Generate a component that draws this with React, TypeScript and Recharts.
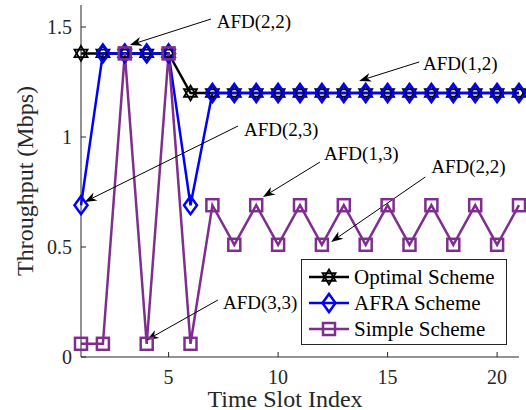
import React from 'react';
import {
	LineChart,
	Line,
	XAxis,
	YAxis,
	ReferenceLine,
	ReferenceDot,
	Legend,
} from 'recharts';

// time slots 1..21
const slots = [1, 2, 3, 4, 5, 6, 7, 8, 9, 10, 11, 12, 13, 14, 15, 16, 17, 18, 19, 20, 21];
const optimal = [1.38, 1.38, 1.38, 1.38, 1.38, 1.2, 1.2, 1.2, 1.2, 1.2, 1.2, 1.2, 1.2, 1.2, 1.2, 1.2, 1.2, 1.2, 1.2, 1.2, 1.2];
const afra = [0.69, 1.38, 1.38, 1.38, 1.38, 0.69, 1.2, 1.2, 1.2, 1.2, 1.2, 1.2, 1.2, 1.2, 1.2, 1.2, 1.2, 1.2, 1.2, 1.2, 1.2];
const simple = [0.06, 0.06, 1.38, 0.06, 1.38, 0.06, 0.69, 0.51, 0.69, 0.51, 0.69, 0.51, 0.69, 0.51, 0.69, 0.51, 0.69, 0.51, 0.69, 0.51, 0.69];

const xTicks = [5, 10, 15, 20];
const yTicks = [0, 0.5, 1, 1.5];

// annotations: label anchor + arrow tail/tip, in data units
const notes = [
	{text: 'AFD(2,2)', tx: 7.2, ty: 1.527, from: [6.93, 1.536], to: [3.23, 1.418]},
	{text: 'AFD(1,2)', tx: 16.62, ty: 1.336, from: [16.44, 1.341], to: [13.7, 1.255]},
	{text: 'AFD(2,3)', tx: 8.44, ty: 1.036, from: [8.17, 1.05], to: [1.17, 0.705]},
	{text: 'AFD(1,3)', tx: 12.1, ty: 0.927, from: [11.91, 0.886], to: [9.31, 0.727]},
	{text: 'AFD(2,2)', tx: 16.99, ty: 0.868, from: [16.72, 0.818], to: [12.42, 0.523]},
	{text: 'AFD(3,3)', tx: 7.48, ty: 0.25, from: [7.25, 0.259], to: [4.0, 0.077]},
];

const data = slots.map((s, i) => ({slot: s, optimal: optimal[i], afra: afra[i], simple: simple[i]}));

const SERIF = '"Liberation Serif", "Times New Roman", serif';
const AXIS = '#262626';
const BLACK = '#000000';
const BLUE = '#0000FF';
const PURPLE = '#7E2F8E';

function hexagram(cx: number, cy: number, r: number) {
	const up = [[cx, cy - r], [cx + r * 0.866, cy + r / 2], [cx - r * 0.866, cy + r / 2]];
	const dn = [[cx, cy + r], [cx + r * 0.866, cy - r / 2], [cx - r * 0.866, cy - r / 2]];
	return (
		<g>
			<polygon points={up.map((p) => p.join(',')).join(' ')} fill="none" stroke={BLACK} strokeWidth={1.8} />
			<polygon points={dn.map((p) => p.join(',')).join(' ')} fill="none" stroke={BLACK} strokeWidth={1.8} />
		</g>
	);
}

function diamond(cx: number, cy: number, color: string) {
	const pts = `${cx},${cy - 9} ${cx + 6.5},${cy} ${cx},${cy + 9} ${cx - 6.5},${cy}`;
	return <polygon points={pts} fill="none" stroke={color} strokeWidth={2.5} />;
}

function square(cx: number, cy: number, color: string) {
	return <rect x={cx - 6} y={cy - 6} width={12} height={12} fill="none" stroke={color} strokeWidth={2.5} />;
}

const StarDot = (p: any) => <g key={p.key ?? p.index}>{hexagram(p.cx, p.cy, 7.5)}</g>;
const DiamondDot = (p: any) => <g key={p.key ?? p.index}>{diamond(p.cx, p.cy, BLUE)}</g>;
const SquareDot = (p: any) => <g key={p.key ?? p.index}>{square(p.cx, p.cy, PURPLE)}</g>;

const Arrow = (p: any) => {
	const {x1, y1, x2, y2} = p;
	const a = Math.atan2(y2 - y1, x2 - x1);
	const c = Math.cos(a);
	const s = Math.sin(a);
	const L = 12;
	const W = 9;
	const pt = (u: number, v: number) => `${x2 + u * c - v * s},${y2 + u * s + v * c}`;
	return (
		<g>
			<line x1={x1} y1={y1} x2={x2 - 0.7 * L * c} y2={y2 - 0.7 * L * s} stroke={BLACK} strokeWidth={1} />
			<polygon points={[pt(0, 0), pt(-L, -W / 2), pt(-0.7 * L, 0), pt(-L, W / 2)].join(' ')} fill={BLACK} />
		</g>
	);
};

const legendRows = [
	{name: 'Optimal Scheme', color: BLACK, kind: 'star'},
	{name: 'AFRA Scheme', color: BLUE, kind: 'diamond'},
	{name: 'Simple Scheme', color: PURPLE, kind: 'square'},
];

function LegendBox() {
	return (
		<svg width={206} height={86} style={{display: 'block'}}>
			<rect x={0.5} y={0.5} width={205} height={85} fill="#fff" stroke={AXIS} strokeWidth={1} />
			{legendRows.map((r, i) => {
				const y = 18 + i * 26;
				return (
					<g key={r.name}>
						<line x1={8} y1={y} x2={48} y2={y} stroke={r.color} strokeWidth={2.5} />
						{r.kind === 'star' && hexagram(28, y, 7.5)}
						{r.kind === 'diamond' && diamond(28, y, r.color)}
						{r.kind === 'square' && square(28, y, r.color)}
						<text x={53} y={y} dy="0.35em" fontFamily={SERIF} fontSize={21} fill={BLACK}>
							{r.name}
						</text>
					</g>
				);
			})}
		</svg>
	);
}

export default function App() {
	const tickStyle = {fill: AXIS, fontSize: 20, fontFamily: SERIF};
	return (
		<div style={{position: 'absolute', left: 0, top: 0, background: '#fff'}}>
			<LineChart width={526} height={410} data={data} margin={{top: 5, right: 7, left: 0, bottom: 0}}>
				<XAxis
					dataKey="slot"
					type="number"
					domain={[1, 21]}
					ticks={xTicks}
					height={53}
					tickSize={-5}
					tickMargin={18}
					stroke={AXIS}
					tick={tickStyle}
					label={{
						content: (props: any) => {
							const vb = props.viewBox || {x: 81, y: 357};
							return (
								<text x={285} y={vb.y + 50} textAnchor="middle" fontFamily={SERIF} fontSize={24} fill={AXIS}>
									Time Slot Index
								</text>
							);
						},
					}}
				/>
				<XAxis
					xAxisId="top"
					orientation="top"
					type="number"
					domain={[1, 21]}
					ticks={xTicks}
					height={0}
					tickSize={-5}
					stroke={AXIS}
					tickFormatter={() => ''}
				/>
				<YAxis
					type="number"
					domain={[0, 1.6]}
					ticks={yTicks}
					width={81}
					tickSize={-5}
					tickMargin={14}
					stroke={AXIS}
					tick={tickStyle}
					label={{
						content: (props: any) => {
							const vb = props.viewBox || {y: 5, height: 352};
							const cy = vb.y + vb.height / 2;
							return (
								<text
									x={33}
									y={cy}
									transform={`rotate(-90, 33, ${cy})`}
									textAnchor="middle"
									fontFamily={SERIF}
									fontSize={24}
									fill={AXIS}
								>
									Throughput (Mbps)
								</text>
							);
						},
					}}
				/>
				<YAxis
					yAxisId="right"
					orientation="right"
					type="number"
					domain={[0, 1.6]}
					ticks={yTicks}
					width={0}
					tickSize={-5}
					stroke={AXIS}
					tickFormatter={() => ''}
				/>
				<Line
					dataKey="optimal"
					stroke={BLACK}
					strokeWidth={2.5}
					dot={StarDot}
					activeDot={false}
					isAnimationActive={false}
				/>
				<Line
					dataKey="afra"
					stroke={BLUE}
					strokeWidth={2.5}
					dot={DiamondDot}
					activeDot={false}
					isAnimationActive={false}
				/>
				<Line
					dataKey="simple"
					stroke={PURPLE}
					strokeWidth={2.5}
					dot={SquareDot}
					activeDot={false}
					isAnimationActive={false}
				/>
				{notes.map((n, i) => (
					<ReferenceLine
						key={`a${i}`}
						segment={[
							{x: n.from[0], y: n.from[1]},
							{x: n.to[0], y: n.to[1]},
						]}
						shape={Arrow}
						ifOverflow="visible"
					/>
				))}
				{notes.map((n, i) => (
					<ReferenceDot
						key={`t${i}`}
						x={n.tx}
						y={n.ty}
						r={0}
						ifOverflow="visible"
						shape={(p: any) => (
							<text x={p.cx} y={p.cy} dy="0.35em" fontFamily={SERIF} fontSize={19} fill={BLACK}>
								{n.text}
							</text>
						)}
					/>
				))}
				<Legend
					layout="vertical"
					align="center"
					verticalAlign="middle"
					content={() => <LegendBox />}
					wrapperStyle={{left: 301, top: 259, width: 206, height: 86, right: 'auto', bottom: 'auto'}}
				/>
			</LineChart>
		</div>
	);
}
